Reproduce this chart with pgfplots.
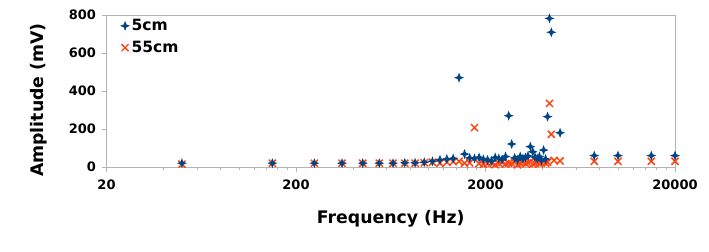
\documentclass[border=0pt]{standalone}
\usepackage{pgfplots}
\pgfplotsset{compat=1.18}
\usepackage{pgfplotstable}
\usetikzlibrary{calc}
\usepackage{fontspec}
\setmainfont{DejaVu Sans}
\definecolor{lblue}{HTML}{004586}
\definecolor{lorange}{HTML}{FF420E}
\definecolor{lgray}{HTML}{B3B3B3}
\pgfdeclareplotmark{star4}{%
  \pgfpathmoveto{\pgfqpoint{0pt}{\pgfplotmarksize}}%
  \pgfpathlineto{\pgfqpoint{0.28\pgfplotmarksize}{0.28\pgfplotmarksize}}%
  \pgfpathlineto{\pgfqpoint{\pgfplotmarksize}{0pt}}%
  \pgfpathlineto{\pgfqpoint{0.28\pgfplotmarksize}{-0.28\pgfplotmarksize}}%
  \pgfpathlineto{\pgfqpoint{0pt}{-\pgfplotmarksize}}%
  \pgfpathlineto{\pgfqpoint{-0.28\pgfplotmarksize}{-0.28\pgfplotmarksize}}%
  \pgfpathlineto{\pgfqpoint{-\pgfplotmarksize}{0pt}}%
  \pgfpathlineto{\pgfqpoint{-0.28\pgfplotmarksize}{0.28\pgfplotmarksize}}%
  \pgfpathclose
  \pgfusepathqfill
}
\pgfplotstableread{
f A
50 20
150 20
250 20
350 20
450 20
550 20
650 20
750 22
850 22
950 25
1050 30
1150 38
1250 42
1350 45
1450 470
1550 68
1650 48
1750 45
1850 50
1950 40
2050 38
2150 32
2250 50
2350 45
2450 40
2550 55
2650 270
2750 121
2850 48
2950 38
3050 55
3150 45
3250 50
3350 58
3450 107
3550 80
3650 52
3750 45
3850 55
3950 35
4050 89
4150 42
4250 265
4350 782
4450 709
4950 180
7500 60
10000 60
15000 60
20000 60
}\tblue
\pgfplotstableread{
f A
50 15
150 20
250 20
350 20
450 20
550 20
650 20
750 20
850 20
950 22
1050 25
1150 20
1250 25
1350 28
1450 30
1550 20
1650 22
1750 207
1850 18
1950 15
2050 18
2150 22
2250 12
2350 20
2450 25
2550 15
2650 20
2750 18
2850 25
2950 12
3050 20
3150 25
3250 18
3350 22
3450 28
3550 15
3650 20
3750 25
3850 18
3950 22
4050 28
4150 20
4250 25
4350 335
4450 172
4600 35
4950 32
7500 30
10000 30
15000 30
20000 30
}\torange
\begin{document}
\begin{tikzpicture}
\begin{axis}[
  scale only axis,
  width=568.5pt, height=152pt,
  xmode=log, xmin=20, xmax=20000,
  ymin=0, ymax=800,
  xtick={20,200,2000,20000},
  xticklabels={20,200,2000,20000},
  minor xtick={},
  ytick={0,200,400,600,800},
  yticklabels={0,200,400,600,800},
  axis line style={lgray, line width=0.8pt},
  tick style={lgray, line width=0.8pt},
  tick align=outside,
  major tick length=5pt,
  xtick pos=bottom, ytick pos=left,
  tick label style={font=\fontsize{13}{15}\selectfont\bfseries, text=black},
  /pgf/number format/assume math mode=true,
  xticklabel style={yshift=-4pt},
  yticklabel style={xshift=-2pt},
  xlabel={Frequency (Hz)},
  ylabel={Amplitude (mV)},
  label style={font=\fontsize{17.3}{20}\selectfont\bfseries},
  xlabel style={at={(axis description cs:0.5,-0.34)}, anchor=center},
  ylabel style={at={(axis description cs:-0.12,0.44)}, anchor=center, rotate=0},
  reverse legend,
  legend style={at={(0.02,0.995)}, anchor=north west, draw=none, fill=none,
    font=\fontsize{15.5}{18}\selectfont\bfseries, row sep=6pt,
    inner sep=2pt, nodes={inner sep=1.5pt}},
  legend image code/.code={\draw[#1, line width=1.3pt] plot coordinates {(0.22cm,0cm)};},
  legend cell align=left,
  clip=false,
]
\addplot[only marks, mark=x, mark size=5pt, lorange, line width=1.5pt] table[x=f,y=A] {\torange};
\addlegendentry{55cm}
\addplot[only marks, mark=star4, mark size=5pt, lblue] table[x=f,y=A] {\tblue};
\addlegendentry{5cm}
\end{axis}
\pgfresetboundingbox
\path[use as bounding box] ($(current axis.south west)+(-106.5pt,-85pt)$) rectangle ($(current axis.north east)+(34pt,15pt)$);
\end{tikzpicture}
\end{document}
